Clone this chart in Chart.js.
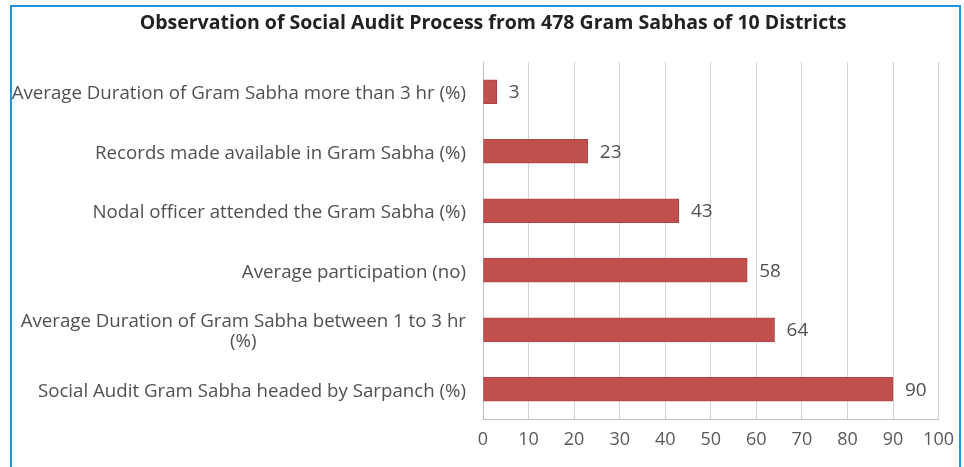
<!DOCTYPE html>
<html lang="en">
<head>
    <meta charset="UTF-8">
    <title>Social Audit Process</title>
    <style>
        html, body { margin: 0; padding: 0; background: #fff; }
        #wrap { position: relative; width: 964px; height: 467px; overflow: hidden; }
        #frame { position: absolute; left: 10px; top: 5px; width: 947px; height: 480px;
                 border: 2px solid #1B96DE; border-bottom: none; pointer-events: none; }
        canvas { position: absolute; left: 0; top: 0; }
    </style>
</head>
<body>
    <div id="wrap">
        <canvas id="auditChart" width="964" height="467"></canvas>
        <div id="frame"></div>
    </div>
    <script src="https://cdn.jsdelivr.net/npm/chart.js"></script>
    <script>
        const chartTitle = 'Observation of Social Audit Process from 478 Gram Sabhas of 10 Districts';
        // top to bottom, as in the picture
        const categories = [
            'Average Duration of Gram Sabha more than 3 hr (%)',
            'Records made available in Gram Sabha (%)',
            'Nodal officer attended the Gram Sabha (%)',
            'Average participation (no)',
            ['Average Duration of Gram Sabha between 1 to 3 hr', '(%)'],
            'Social Audit Gram Sabha headed by Sarpanch (%)'
        ];
        const values = [3, 23, 43, 58, 64, 90];
        const xMin = 0, xMax = 100, xStep = 10;

        const fontName = '"Open Sans"';

        // draws title, category labels (right-aligned block, lines centered) and value labels
        const textPlugin = {
            id: 'textPlugin',
            afterDraw(chart) {
                const ctx = chart.ctx;
                const yScale = chart.scales.y;
                ctx.save();
                ctx.textBaseline = 'middle';

                ctx.font = 'bold 19.5px ' + fontName;
                ctx.fillStyle = '#222';
                ctx.textAlign = 'center';
                ctx.fillText(chartTitle, 493, 23);

                ctx.font = '18.7px ' + fontName;
                ctx.fillStyle = '#505050';
                const labelRight = 466;
                categories.forEach((lab, i) => {
                    const lines = Array.isArray(lab) ? lab : [lab];
                    const w = Math.max(...lines.map(l => ctx.measureText(l).width));
                    const cx = labelRight - w / 2;
                    const cy = yScale.getPixelForValue(i);
                    lines.forEach((l, j) => {
                        ctx.fillText(l, cx, cy + 2 + (j - (lines.length - 1) / 2) * 20);
                    });
                });

                ctx.font = '19px ' + fontName;
                ctx.textAlign = 'left';
                chart.getDatasetMeta(0).data.forEach((bar, i) => {
                    ctx.fillText(values[i], bar.x + 12, bar.y + 1);
                });
                ctx.restore();
            }
        };

        const ctx = document.getElementById('auditChart').getContext('2d');
        new Chart(ctx, {
            type: 'bar',
            data: {
                labels: categories,
                datasets: [{
                    data: values,
                    backgroundColor: '#C0504D',
                    borderColor: '#B04643',
                    borderWidth: 1,
                    borderSkipped: false,
                    barThickness: 24
                }]
            },
            options: {
                indexAxis: 'y',
                responsive: false,
                animation: false,
                layout: { padding: { top: 62, right: 24, left: 0, bottom: 0 } },
                plugins: {
                    legend: { display: false },
                    tooltip: { enabled: false },
                    title: { display: false }
                },
                scales: {
                    x: {
                        min: xMin,
                        max: xMax,
                        ticks: {
                            stepSize: xStep,
                            color: '#595959',
                            font: { family: fontName, size: 18 },
                            padding: 10
                        },
                        grid: { color: '#D4D4D4', drawTicks: false },
                        border: { color: '#BFBFBF' },
                        afterFit(scale) { scale.height = 48; }
                    },
                    y: {
                        ticks: { display: false },
                        grid: { display: false },
                        border: { display: true, color: '#BFBFBF' },
                        afterFit(scale) { scale.width = 483; }
                    }
                }
            },
            plugins: [textPlugin]
        });
    </script>
</body>
</html>
